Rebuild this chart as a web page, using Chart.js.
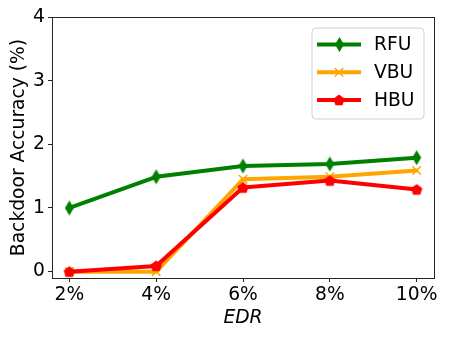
<!DOCTYPE html>
<html><head><meta charset="utf-8">
<script src="https://cdn.jsdelivr.net/npm/chart.js@4"></script>
<style>html,body{margin:0;padding:0;background:#fff}#wrap{width:450px;height:338px;position:relative}</style>
</head><body><div id="wrap"><canvas id="c"></canvas></div>
<script>
// ---- data ----
const categories = ['2%', '4%', '6%', '8%', '10%'];
const rfuValues = [1.00, 1.49, 1.66, 1.69, 1.79];
const vbuValues = [0.00, 0.00, 1.45, 1.49, 1.59];
const hbuValues = [0.00, 0.09, 1.32, 1.43, 1.29];
const yTickValues = [0, 1, 2, 3, 4];
const seriesNames = ['RFU', 'VBU', 'HBU'];
const xTitle = 'EDR';
const yTitle = 'Backdoor Accuracy (%)';

// ---- marker images ----
function thinDiamond(color, w, h) {
  const c = document.createElement('canvas');
  c.width = w + 2; c.height = h + 2;
  const g = c.getContext('2d');
  const cx = c.width / 2, cy = c.height / 2;
  g.beginPath();
  g.moveTo(cx, cy - h / 2); g.lineTo(cx + w / 2, cy); g.lineTo(cx, cy + h / 2); g.lineTo(cx - w / 2, cy);
  g.closePath(); g.fillStyle = color; g.fill();
  return c;
}
function pentagon(color, r) {
  const s = Math.ceil(r * 2 + 2);
  const c = document.createElement('canvas');
  c.width = s; c.height = s;
  const g = c.getContext('2d');
  const cx = s / 2, cy = s / 2 + 0.5;
  g.beginPath();
  for (let i = 0; i < 5; i++) {
    const a = -Math.PI / 2 + i * 2 * Math.PI / 5;
    const x = cx + r * Math.cos(a), y = cy + r * Math.sin(a);
    if (i === 0) g.moveTo(x, y); else g.lineTo(x, y);
  }
  g.closePath(); g.fillStyle = color; g.fill();
  return c;
}

const GREEN = '#008000', ORANGE = '#FFA500', RED = '#FF0000';
const diamondImg = thinDiamond(GREEN, 9, 15);
const pentImg = pentagon(RED, 6);

const toXY = arr => arr.map((v, i) => ({x: i, y: v}));

const datasets = [
  {label: seriesNames[0], data: toXY(rfuValues), borderColor: GREEN, backgroundColor: GREEN,
   borderWidth: 4, pointStyle: diamondImg, pointRadius: 7, order: 2},
  {label: seriesNames[1], data: toXY(vbuValues), borderColor: ORANGE, backgroundColor: ORANGE,
   borderWidth: 4, pointStyle: 'crossRot', pointRadius: 6, pointBorderWidth: 1.5, pointBorderColor: ORANGE, order: 1},
  {label: seriesNames[2], data: toXY(hbuValues), borderColor: RED, backgroundColor: RED,
   borderWidth: 4, pointStyle: pentImg, pointRadius: 6, order: 0}
];
datasets.forEach(d => { d.tension = 0; d.fill = false; d.pointHoverRadius = d.pointRadius; d.borderJoinStyle = 'round'; d.borderCapStyle = 'round'; });

const FONT = 'DejaVu Sans';
const FS = 18.7;

function drawMarker(ctx, ds, x, y) {
  const ps = ds.pointStyle;
  if (ps instanceof HTMLCanvasElement) {
    ctx.drawImage(ps, Math.round(x - ps.width / 2), Math.round(y - ps.height / 2));
  } else if (ps === 'crossRot') {
    const r = ds.pointRadius * Math.SQRT1_2;
    ctx.save();
    ctx.strokeStyle = ds.pointBorderColor; ctx.lineWidth = ds.pointBorderWidth;
    ctx.beginPath();
    ctx.moveTo(x - r, y - r); ctx.lineTo(x + r, y + r);
    ctx.moveTo(x + r, y - r); ctx.lineTo(x - r, y + r);
    ctx.stroke(); ctx.restore();
  }
}

const framePlugin = {
  id: 'frame',
  afterDatasetsDraw(chart) {
    const {ctx, chartArea: a} = chart;
    ctx.save();
    ctx.strokeStyle = '#262626'; ctx.lineWidth = 1;
    ctx.strokeRect(Math.round(a.left) + 0.5, Math.round(a.top) + 0.5,
                   Math.round(a.right - a.left), Math.round(a.bottom - a.top));
    ctx.restore();
  },
  afterDraw(chart) {
    // legend (upper right, inside axes)
    const {ctx} = chart;
    const bx = 312, by = 28, bw = 112, bh = 91, r = 4;
    ctx.save();
    ctx.beginPath();
    ctx.moveTo(bx + r, by); ctx.lineTo(bx + bw - r, by); ctx.quadraticCurveTo(bx + bw, by, bx + bw, by + r);
    ctx.lineTo(bx + bw, by + bh - r); ctx.quadraticCurveTo(bx + bw, by + bh, bx + bw - r, by + bh);
    ctx.lineTo(bx + r, by + bh); ctx.quadraticCurveTo(bx, by + bh, bx, by + bh - r);
    ctx.lineTo(bx, by + r); ctx.quadraticCurveTo(bx, by, bx + r, by);
    ctx.closePath();
    ctx.fillStyle = 'rgba(255,255,255,0.8)'; ctx.fill();
    ctx.strokeStyle = '#d0d0d0'; ctx.lineWidth = 1; ctx.stroke();
    chart.data.datasets.forEach((ds, i) => {
      const y = 44.5 + i * 27.8;
      ctx.strokeStyle = ds.borderColor; ctx.lineWidth = 4; ctx.lineCap = 'butt';
      ctx.beginPath(); ctx.moveTo(317, y); ctx.lineTo(361, y); ctx.stroke();
      drawMarker(ctx, ds, 339, y);
      ctx.fillStyle = '#000'; ctx.font = FS + 'px "' + FONT + '"';
      ctx.textBaseline = 'middle'; ctx.textAlign = 'left';
      ctx.fillText(ds.label, 374, y + 1);
    });
    ctx.restore();
  }
};

new Chart(document.getElementById('c'), {
  type: 'line',
  data: {datasets},
  plugins: [framePlugin],
  options: {
    responsive: true, maintainAspectRatio: false, animation: false,
    devicePixelRatio: 1,
    layout: {padding: {left: 0, right: 16, top: 17, bottom: 0}},
    plugins: {legend: {display: false}, tooltip: {enabled: false}},
    scales: {
      x: {
        type: 'linear', min: -0.2, max: 4.2,
        afterBuildTicks: s => { s.ticks = categories.map((c, i) => ({value: i})); },
        afterFit: s => { s.height = 60; },
        ticks: {callback: v => categories[v], autoSkip: false, maxRotation: 0, padding: 2,
                color: '#000', font: {family: FONT, size: FS}},
        grid: {display: true, drawOnChartArea: false, drawTicks: true, tickLength: 4, tickColor: '#262626', tickWidth: 1},
        border: {display: false},
        title: {display: true, text: xTitle, color: '#000', padding: {top: 9, bottom: 9},
                font: {family: FONT, size: FS, style: 'italic'}}
      },
      y: {
        type: 'linear', min: -0.1, max: 4,
        afterBuildTicks: s => { s.ticks = yTickValues.map(v => ({value: v})); },
        afterFit: s => { s.width = 52; },
        ticks: {padding: 3, color: '#000', font: {family: FONT, size: FS}},
        grid: {display: true, drawOnChartArea: false, drawTicks: true, tickLength: 4, tickColor: '#262626', tickWidth: 1},
        border: {display: false},
        title: {display: true, text: yTitle, color: '#000', padding: {top: 8, bottom: 8},
                font: {family: FONT, size: FS}}
      }
    }
  }
});
</script></body></html>
